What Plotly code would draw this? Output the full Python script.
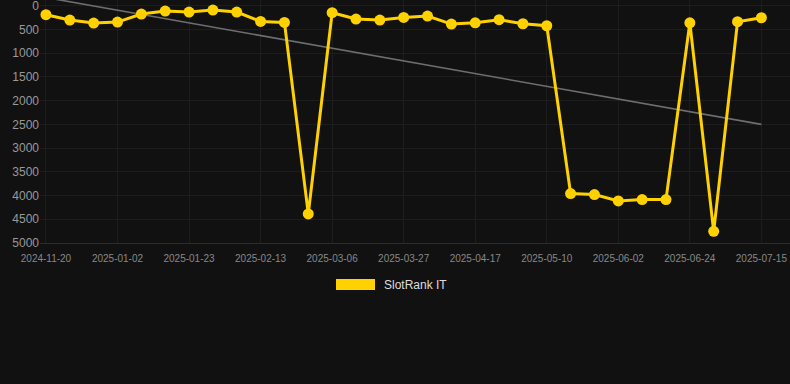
import plotly.graph_objects as go

dates = [
    "2024-11-20", "2024-12-04", "2024-12-18", "2025-01-02", "2025-01-09", "2025-01-16",
    "2025-01-23", "2025-01-30", "2025-02-06", "2025-02-13", "2025-02-20", "2025-02-27",
    "2025-03-06", "2025-03-13", "2025-03-20", "2025-03-27", "2025-04-03", "2025-04-10",
    "2025-04-17", "2025-04-24", "2025-05-01", "2025-05-10", "2025-05-17", "2025-05-24",
    "2025-06-02", "2025-06-09", "2025-06-16", "2025-06-24", "2025-07-01", "2025-07-08",
    "2025-07-15",
]
ranks = [
    187, 300, 364, 342, 173, 110, 131, 89, 131, 328, 349, 4387,
    145, 279, 300, 244, 216, 385, 357, 293, 378, 420, 3958, 3979,
    4113, 4085, 4085, 357, 4754, 335, 251,
]
trend_ends = [-175, 2499]
tick_labels = dates[::3]
series_name = "SlotRank IT"

fig = go.Figure()
fig.add_trace(go.Scatter(
    x=[dates[0], dates[-1]], y=trend_ends, mode="lines",
    line=dict(color="#6e6e6e", width=1.6), showlegend=False, hoverinfo="skip",
))
fig.add_trace(go.Scatter(
    x=dates, y=ranks, mode="lines+markers", name=series_name,
    line=dict(color="#FFD100", width=3),
    marker=dict(color="#FFD100", size=11),
    showlegend=False,
))

L, T, B = 40, 0, 141
W, H = 790, 384
ph = H - T - B
pw = W - L

def px(x):
    return (x - L) / pw

def py(y):
    return (H - B - y) / ph

fig.add_shape(type="rect", xref="paper", yref="paper",
              x0=px(336), x1=px(375), y0=py(290), y1=py(279),
              fillcolor="#FFD100", line=dict(width=0))
fig.add_annotation(xref="paper", yref="paper", x=px(382), y=py(285),
                   text=series_name, showarrow=False, xanchor="left", yanchor="middle",
                   font=dict(family="Liberation Sans, Arial", size=12, color="#dddddd"))

fig.update_layout(
    width=W, height=H,
    margin=dict(l=L, r=0, t=T, b=B),
    paper_bgcolor="#111111", plot_bgcolor="#111111",
    font=dict(family="Liberation Sans, Arial", color="#999999"),
    showlegend=False,
)
fig.update_xaxes(
    type="category", categoryorder="array", categoryarray=dates,
    range=[-0.25, 31.2],
    tickmode="array", tickvals=tick_labels, ticktext=tick_labels,
    tickfont=dict(size=10, color="#888888"),
    showgrid=True, gridcolor="#1d1d1d", gridwidth=1,
    zeroline=False, showline=True, linecolor="#2c2c2c", linewidth=1,
    ticks="outside", ticklen=6, tickcolor="#111111",
)
fig.update_yaxes(
    range=[5000, -123], tickmode="array",
    tickvals=list(range(0, 5001, 500)),
    ticktext=[str(v) for v in range(0, 5001, 500)],
    tickfont=dict(size=12, color="#999999"),
    showgrid=True, gridcolor="#1d1d1d", gridwidth=1,
    zeroline=False, showline=False,
    ticklabeloverflow="allow",
)

fig.write_html("out.html")
